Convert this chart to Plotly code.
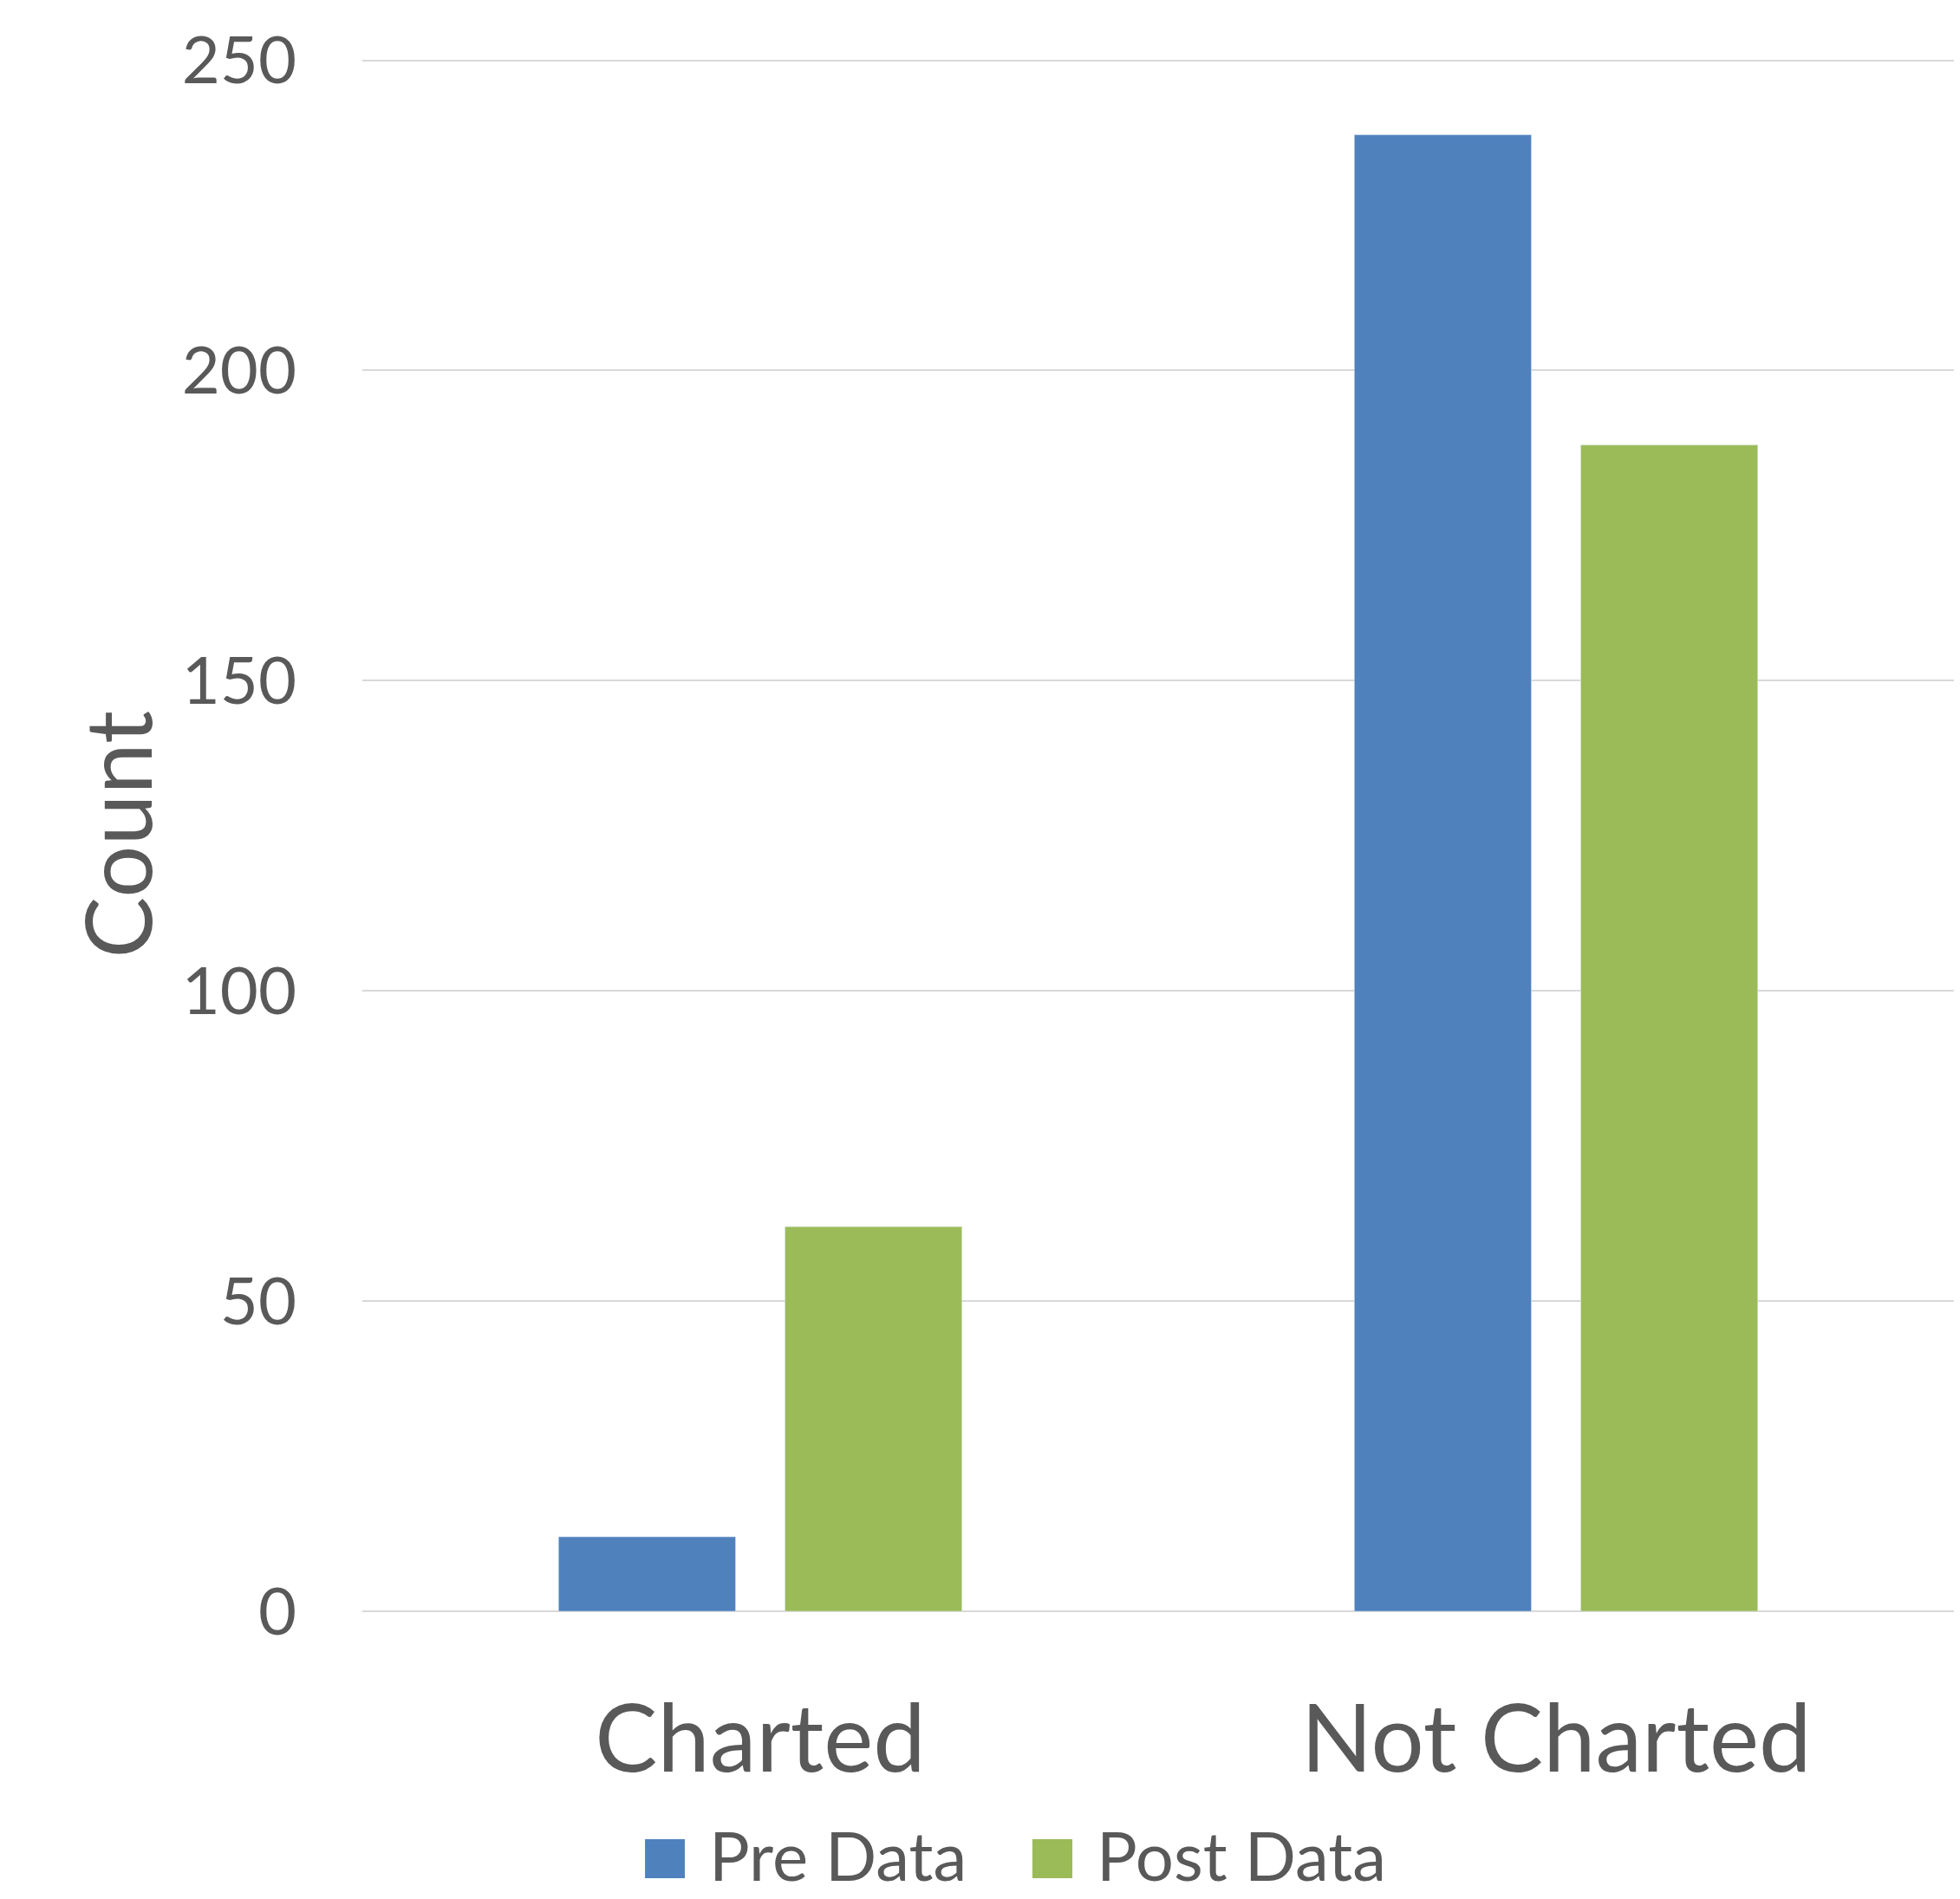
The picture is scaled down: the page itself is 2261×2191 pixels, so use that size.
import plotly.graph_objects as go

categories = ["Charted", "Not Charted"]
series_names = ["Pre Data", "Post Data"]
pre_data = [12, 238]
post_data = [62, 188]
colors = ["#4F81BD", "#9BBB59"]
y_ticks = [0, 50, 100, 150, 200, 250]

TEXT = "#595959"
FONT = "Lato"

fig = go.Figure()
for name, vals, col in zip(series_names, [pre_data, post_data], colors):
    fig.add_trace(go.Bar(name=name, x=categories, y=vals, marker_color=col, showlegend=False))

fig.update_layout(
    width=2261, height=2191,
    margin=dict(l=418, r=7, t=66, b=332, autoexpand=False),
    paper_bgcolor="white", plot_bgcolor="white",
    barmode="group", bargap=0.431, bargroupgap=0.218,
    font=dict(family=FONT, color=TEXT),
    showlegend=False,
)
fig.update_xaxes(showgrid=False, showline=False, zeroline=False,
                 tickfont=dict(size=108, color=TEXT), ticklabelstandoff=76)
fig.update_yaxes(range=[0, 250.5], tickvals=y_ticks, showgrid=True, gridcolor="#D9D9D9",
                 gridwidth=2, zeroline=True, zerolinecolor="#D9D9D9", zerolinewidth=2,
                 showline=False, tickfont=dict(size=76, color=TEXT), ticklabelstandoff=75)
fig.add_annotation(text="Count", textangle=-90, xref="paper", yref="paper",
                   x=-0.1547, y=0.5, xanchor="center", yanchor="middle", showarrow=False,
                   font=dict(size=106, color=TEXT, family=FONT))

# Legend (drawn manually so the colour squares can match the reference size)
legend_items = [
    (series_names[0], colors[0], 0.1776, 0.2026, 0.2168),
    (series_names[1], colors[1], 0.4210, 0.4461, 0.4602),
]
for name, col, x0, x1, tx in legend_items:
    fig.add_shape(type="rect", xref="paper", yref="paper", x0=x0, x1=x1,
                  y0=-0.1718, y1=-0.1467, fillcolor=col, line_width=0)
    fig.add_annotation(text=name, xref="paper", yref="paper", x=tx, y=-0.1567,
                       xanchor="left", yanchor="middle", showarrow=False,
                       font=dict(size=78, color=TEXT, family=FONT))

fig.write_html("out.html")
